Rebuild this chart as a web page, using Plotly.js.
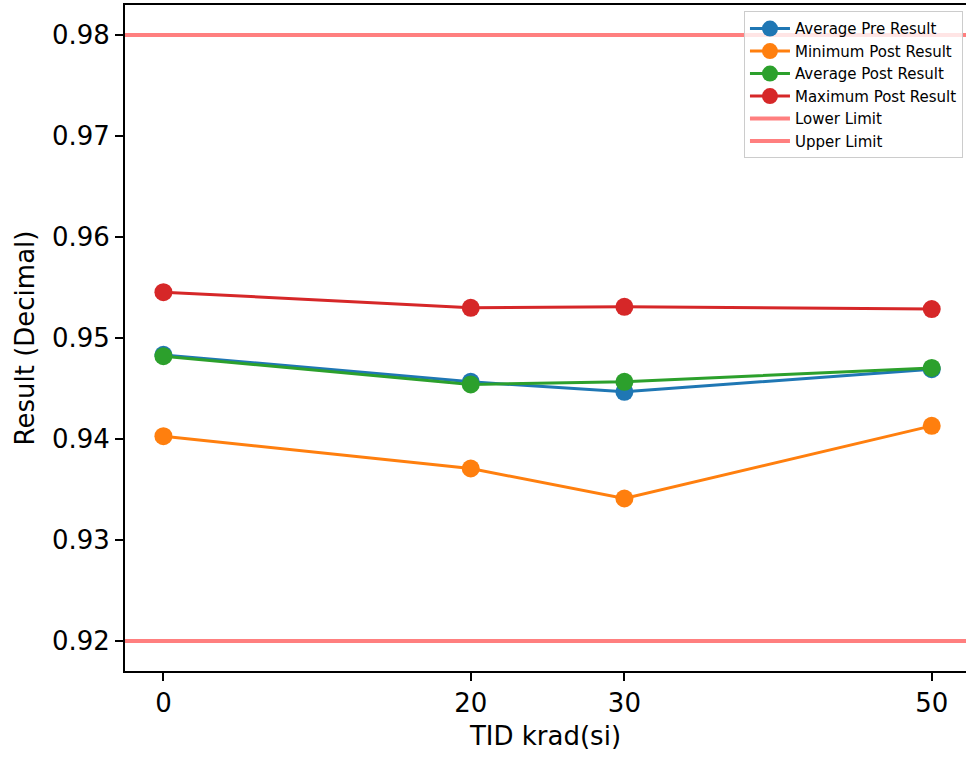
<!DOCTYPE html>
<html>
<head>
<meta charset="utf-8">
<script src="https://cdn.plot.ly/plotly-3.0.1.min.js"></script>
<style>html,body{margin:0;padding:0;background:#fff;overflow:hidden;}</style>
</head>
<body>
<div id="chart" style="width:966px;height:757px;"></div>
<script>
const tid = [0, 20, 30, 50];
const avgPre = [0.94833, 0.94566, 0.94467, 0.94691];
const minPost = [0.94028, 0.93708, 0.93411, 0.94130];
const avgPost = [0.94820, 0.94540, 0.94566, 0.94704];
const maxPost = [0.95454, 0.95299, 0.95309, 0.95286];
const lowerLimit = 0.92;
const upperLimit = 0.98;
const xRange = [-2.5, 52.23];
const yRange = [0.91703, 0.98297];
const tickVals = [0, 20, 30, 50];
const yTickVals = [0.92, 0.93, 0.94, 0.95, 0.96, 0.97, 0.98];

const font = "DejaVu Sans, sans-serif";
function series(name, y, color) {
  return {x: tid, y: y, name: name, type: 'scatter', mode: 'lines+markers',
    line: {color: color, width: 3}, marker: {color: color, size: 18}};
}
function limit(name, v) {
  return {x: xRange, y: [v, v], name: name, type: 'scatter', mode: 'lines',
    line: {color: 'rgba(255,0,0,0.5)', width: 4}, hoverinfo: 'skip'};
}
const data = [
  series('Average Pre Result', avgPre, '#1f77b4'),
  series('Minimum Post Result', minPost, '#ff7f0e'),
  series('Average Post Result', avgPost, '#2ca02c'),
  series('Maximum Post Result', maxPost, '#d62728'),
  limit('Lower Limit', lowerLimit),
  limit('Upper Limit', upperLimit)
];
const layout = {
  width: 966, height: 757,
  margin: {l: 125, r: 0, t: 5, b: 86},
  paper_bgcolor: '#fff', plot_bgcolor: '#fff',
  font: {family: font, color: '#000', size: 26},
  showlegend: true,
  xaxis: {range: xRange, tickvals: tickVals, ticktext: tickVals.map(String),
    showgrid: false, zeroline: false, showline: true, linecolor: '#000', linewidth: 2,
    mirror: true, ticks: 'outside', ticklen: 8, tickwidth: 2, tickcolor: '#000',
    tickfont: {size: 26, family: font},
    title: {text: 'TID krad(si)', font: {size: 26, family: font}, standoff: 10}},
  yaxis: {range: yRange, tickvals: yTickVals, ticktext: yTickVals.map(v => v.toFixed(2)),
    showgrid: false, zeroline: false, showline: true, linecolor: '#000', linewidth: 2,
    mirror: false, ticks: 'outside', ticklen: 8, tickwidth: 2, tickcolor: '#000',
    tickfont: {size: 26, family: font},
    title: {text: 'Result (Decimal)', font: {size: 26, family: font}, standoff: 10}},
  legend: {x: 0.9964, xanchor: 'right', y: 0.9905, yanchor: 'top',
    bgcolor: 'rgba(255,255,255,0.8)', bordercolor: '#cccccc', borderwidth: 1,
    font: {size: 15, family: font}, tracegroupgap: 0, itemwidth: 40}
};
Plotly.newPlot('chart', data, layout, {displayModeBar: false, staticPlot: true});
</script>
</body>
</html>
